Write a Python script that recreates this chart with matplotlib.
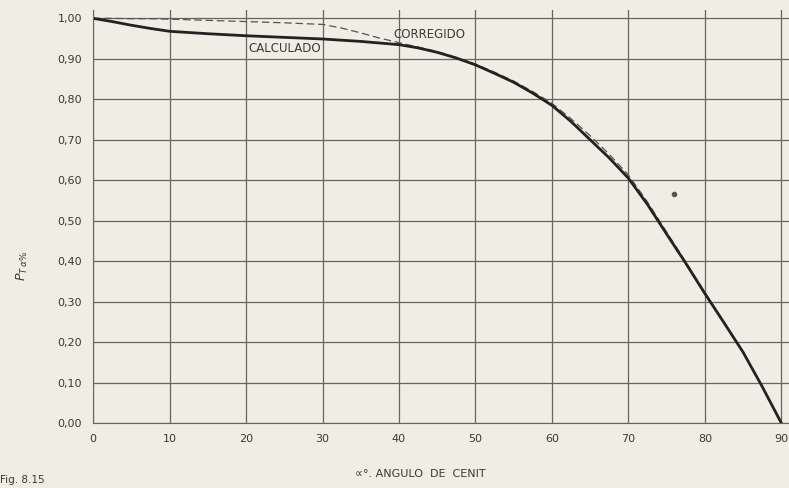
import matplotlib.pyplot as plt
import numpy as np

# Zenith angle (degrees) and transmission factor
angle = [0, 2.5, 5, 7.5, 10, 15, 20, 25, 30, 32.5, 35, 37.5, 40, 42.5, 45, 47.5, 50,
         52.5, 55, 57.5, 60, 62.5, 65, 67.5, 70, 72.5, 75, 77.5, 80, 82.5, 85, 87.5, 90]
calculado = [1.000, 0.992, 0.983, 0.975, 0.968, 0.962, 0.957, 0.953, 0.949, 0.946,
             0.943, 0.939, 0.935, 0.927, 0.916, 0.902, 0.885, 0.864, 0.842, 0.815,
             0.785, 0.745, 0.700, 0.655, 0.605, 0.540, 0.467, 0.395, 0.320, 0.248,
             0.175, 0.090, 0.000]
corregido = [1.000, 1.000, 0.999, 0.999, 0.998, 0.995, 0.992, 0.989, 0.985, 0.976,
             0.964, 0.951, 0.940, 0.929, 0.918, 0.903, 0.887, 0.867, 0.845, 0.819,
             0.790, 0.752, 0.710, 0.664, 0.613, 0.546, 0.472, 0.398, 0.323, 0.250,
             0.176, 0.090, 0.000]

stray_x = [76]
stray_y = [0.565]

x_ticks = [0, 10, 20, 30, 40, 50, 60, 70, 80, 90]
y_ticks = [0.0, 0.1, 0.2, 0.3, 0.4, 0.5, 0.6, 0.7, 0.8, 0.9, 1.0]
y_labels = ['0,00', '0,10', '0,20', '0,30', '0,40', '0,50', '0,60', '0,70', '0,80', '0,90', '1,00']

bg = '#efede4'
ink = '#3a3a36'
grid = '#66665f'

fig = plt.figure(figsize=(7.89, 4.88), dpi=100, facecolor=bg)
ax = fig.add_axes([0.118, 0.133, 0.882, 0.846], facecolor=bg)

ax.plot(angle, corregido, color='#55554f', linewidth=0.9, linestyle=(0, (6, 3)))
ax.plot(angle, calculado, color='#222220', linewidth=2.0)
ax.plot(stray_x, stray_y, 'o', color='#555550', markersize=3)

ax.text(20.3, 0.918, 'CALCULADO', fontsize=8.5, color=ink)
ax.text(39.3, 0.952, 'CORREGIDO', fontsize=8.5, color=ink)

ax.set_xlim(0, 91)
ax.set_ylim(0, 1.02)
ax.set_xticks(x_ticks)
ax.set_yticks(y_ticks)
ax.set_yticklabels(y_labels)
ax.tick_params(labelsize=8, colors=ink, length=0, pad=8)
ax.grid(True, color=grid, linewidth=0.9)
for s in ax.spines.values():
    s.set_visible(False)
ax.spines['left'].set_visible(True)
ax.spines['bottom'].set_visible(True)
ax.spines['left'].set_color(grid)
ax.spines['bottom'].set_color(grid)

ax.set_xlabel('∝°. ANGULO  DE  CENIT', fontsize=8, color=ink)
ax.xaxis.set_label_coords(0.47, -0.11)
ax.set_ylabel(r'$P_{T\,\alpha\%}$', fontsize=9, color=ink)
ax.yaxis.set_label_coords(-0.09, 0.38)

fig.text(0.0, 0.01, 'Fig. 8.15', fontsize=7.5, color=ink)

fig.savefig('out.png', dpi=100, facecolor=bg)
